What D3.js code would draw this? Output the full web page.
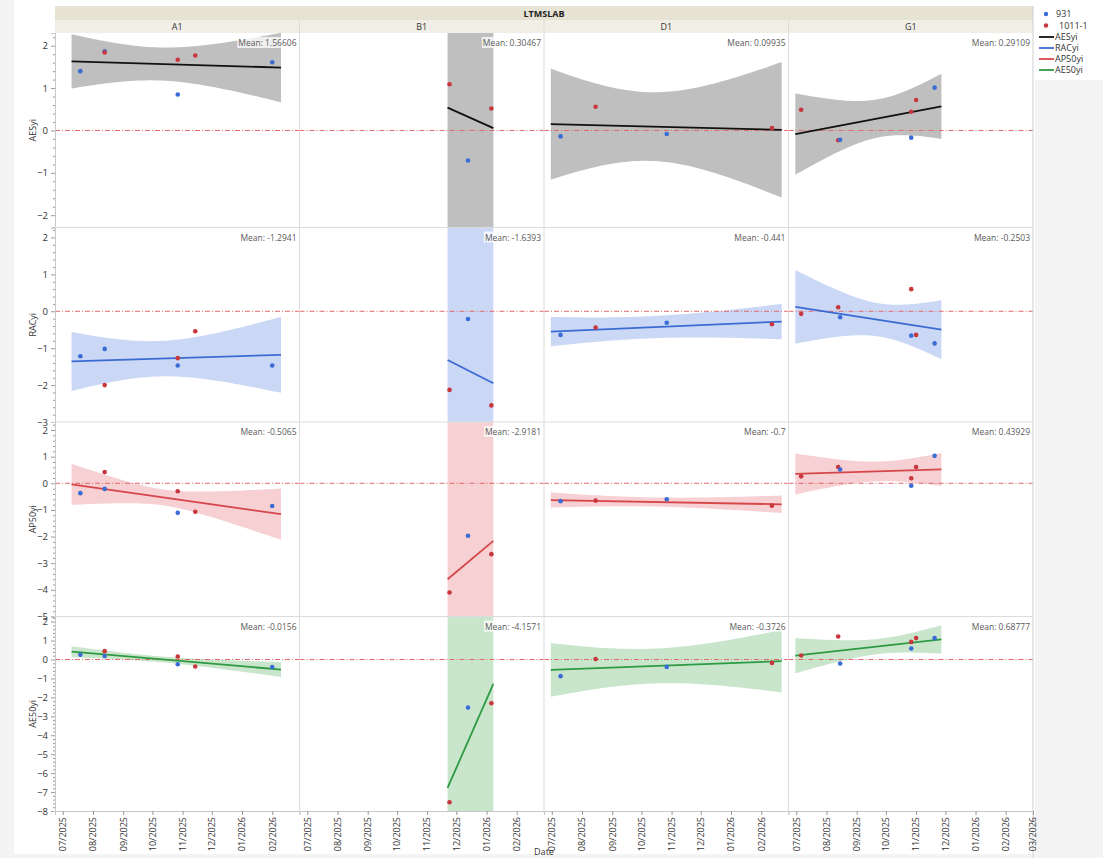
<!DOCTYPE html>
<html><head><meta charset="utf-8">
<script src="https://cdn.jsdelivr.net/npm/d3@7"></script>
<style>
html,body{margin:0;padding:0;background:#fff;}
svg{display:block;font-family:"Open Sans","Noto Sans",sans-serif;}
</style></head>
<body>
<svg id="chart" width="1103" height="858"></svg>
<script>
// ---------------- DATA ----------------
const groupTitle = "LTMSLAB";
const columns = ["A1", "B1", "D1", "G1"];
const rowVars = ["AESyi", "RACyi", "AP50yi", "AE50yi"];
const seriesNames = ["931", "1011-1"];
const xTitle = "Date";
const xTickDates = ["2025-07-01","2025-08-01","2025-09-01","2025-10-01","2025-11-01","2025-12-01","2026-01-01","2026-02-01","2026-03-01"];
const xTickLabels = ["07/2025","08/2025","09/2025","10/2025","11/2025","12/2025","01/2026","02/2026","03/2026"];
const xDomain = ["2025-06-23", "2026-03-01"];

const yDomains = { AESyi: [-2.29, 2.3], RACyi: [-3, 2.27], AP50yi: [-5, 2.3], AE50yi: [-8, 2.27] };
const yTicks = {
  AESyi: [-2, -1, 0, 1, 2],
  RACyi: [-3, -2, -1, 0, 1, 2],
  AP50yi: [-5, -4, -3, -2, -1, 0, 1, 2],
  AE50yi: [-8, -7, -6, -5, -4, -3, -2, -1, 0, 1, 2]
};

const pointDates = {
  A1: ["2025-07-19","2025-08-13","2025-08-13","2025-10-27","2025-10-27","2025-11-14","2026-02-01"],
  B1: ["2025-11-24","2025-12-13","2026-01-06"],
  D1: ["2025-07-10","2025-08-15","2025-10-27","2026-02-12"],
  G1: ["2025-07-06","2025-08-13","2025-08-15","2025-10-27","2025-10-27","2025-11-01","2025-11-20"]
};
const pointSeries = {
  A1: ["931","931","1011-1","1011-1","931","1011-1","931"],
  B1: ["1011-1","931","1011-1"],
  D1: ["931","1011-1","931","1011-1"],
  G1: ["1011-1","1011-1","931","931","1011-1","1011-1","931"]
};
const AESyi = {
  A1: [1.40, 1.87, 1.84, 1.67, 0.85, 1.77, 1.61],
  B1: [1.09, -0.71, 0.52],
  D1: [-0.14, 0.56, -0.085, 0.056],
  G1: [0.49, -0.23, -0.22, -0.17, 0.44, 0.72, 1.01]
};
const RACyi = {
  A1: [-1.22, -1.02, -2.0, -1.27, -1.47, -0.54, -1.47],
  B1: [-2.13, -0.21, -2.55],
  D1: [-0.64, -0.44, -0.31, -0.35],
  G1: [-0.07, 0.11, -0.16, -0.66, 0.6, -0.64, -0.87]
};
const AP50yi = {
  A1: [-0.37, -0.21, 0.42, -0.30, -1.11, -1.07, -0.85],
  B1: [-4.1, -1.97, -2.66],
  D1: [-0.67, -0.65, -0.6, -0.84],
  G1: [0.26, 0.61, 0.52, -0.09, 0.19, 0.61, 1.03]
};
const AE50yi = {
  A1: [0.25, 0.18, 0.44, 0.16, -0.25, -0.37, -0.4],
  B1: [-7.54, -2.54, -2.31],
  D1: [-0.88, 0.02, -0.39, -0.18],
  G1: [0.21, 1.21, -0.21, 0.58, 0.93, 1.13, 1.13]
};
const values = { AESyi, RACyi, AP50yi, AE50yi };

// fitted line range and end values
const fitStart = { A1: "2025-07-10", B1: "2025-11-22", D1: "2025-06-30", G1: "2025-06-30" };
const fitEnd   = { A1: "2026-02-10", B1: "2026-01-08", D1: "2026-02-22", G1: "2025-11-27" };
const fitLine = {
  AESyi:  { A1: [1.63, 1.485], B1: [0.54, 0.056], D1: [0.15, 0.016], G1: [-0.085, 0.57] },
  RACyi:  { A1: [-1.36, -1.18], B1: [-1.32, -1.95], D1: [-0.55, -0.28], G1: [0.12, -0.5] },
  AP50yi: { A1: [-0.04, -1.16], B1: [-3.6, -2.16], D1: [-0.63, -0.79], G1: [0.35, 0.52] },
  AE50yi: { A1: [0.41, -0.53], B1: [-6.78, -1.29], D1: [-0.55, -0.09], G1: [0.2, 1.06] }
};
// confidence band half-width: [at start, narrowest, at end]
const fitBand = {
  AESyi:  { A1: [0.64, 0.39, 0.82], B1: [99, 99, 99], D1: [1.31, 0.81, 1.6], G1: [0.96, 0.45, 0.77] },
  RACyi:  { A1: [0.8, 0.48, 1.03], B1: [99, 99, 99], D1: [0.4, 0.3, 0.48], G1: [1.0, 0.45, 0.8] },
  AP50yi: { A1: [0.77, 0.3, 0.96], B1: [99, 99, 99], D1: [0.28, 0.17, 0.33], G1: [0.77, 0.37, 0.62] },
  AE50yi: { A1: [0.29, 0.15, 0.39], B1: [99, 99, 99], D1: [1.42, 0.92, 1.65], G1: [0.93, 0.4, 0.75] }
};
const meanLabels = {
  AESyi:  ["1.56606", "0.30467", "0.09935", "0.29109"],
  RACyi:  ["-1.2941", "-1.6393", "-0.441", "-0.2503"],
  AP50yi: ["-0.5065", "-2.9181", "-0.7", "0.43929"],
  AE50yi: ["-0.0156", "-4.1571", "-0.3726", "0.68777"]
};

// ---------------- STYLE ----------------
const pointColor = { "931": "#3a6cd6", "1011-1": "#c8363e" };
const lineColor = { AESyi: "#111111", RACyi: "#3b6bd2", AP50yi: "#d6474a", AE50yi: "#2e9a42" };
const bandColor = { AESyi: "#bfbfbf", RACyi: "#cad8f6", AP50yi: "#f6d0d2", AE50yi: "#c9e6cd" };

// ---------------- LAYOUT ----------------
const svg = d3.select("#chart");
const W = 1103, H = 858;
const L = 55, R = 1033, T = 33, B = 811;
const pw = (R - L) / columns.length, ph = (B - T) / rowVars.length;
const parse = d3.utcParse("%Y-%m-%d");

// background
svg.append("rect").attr("width", W).attr("height", H).attr("fill", "#f4f4f4");
svg.append("rect").attr("x", 14).attr("y", 0).attr("width", R - 14 + 2).attr("height", 854).attr("fill", "#fff");
svg.append("rect").attr("x", R + 2).attr("y", 0).attr("width", W - R - 2).attr("height", 80).attr("fill", "#fff");

const x = d3.scaleUtc().domain(xDomain.map(parse)).range([0, pw]);
const yScales = {};
rowVars.forEach((v, r) => {
  yScales[v] = d3.scaleLinear().domain(yDomains[v]).range([T + (r + 1) * ph, T + r * ph]);
});

// header bands
svg.append("rect").attr("x", L).attr("y", 6).attr("width", R - L).attr("height", 14).attr("fill", "#e6e2d4");
svg.append("text").attr("x", (L + R) / 2).attr("y", 16.5).attr("text-anchor", "middle")
  .attr("font-size", 9).attr("font-weight", "bold").attr("fill", "#222").text(groupTitle);
columns.forEach((c, i) => {
  svg.append("rect").attr("x", L + i * pw).attr("y", 20).attr("width", pw).attr("height", 13).attr("fill", "#f1eee6");
  svg.append("text").attr("x", L + i * pw + pw / 2).attr("y", 30).attr("text-anchor", "middle")
    .attr("font-size", 9).attr("fill", "#333").text(c);
});

const defs = svg.append("defs");

function halfWidth(h0, hm, h1, t) {
  const a = Math.max(h0 * h0 - hm * hm, 0), b = Math.max(h1 * h1 - hm * hm, 0);
  if (a + b === 0) return hm;
  const ra = Math.sqrt(a), rb = Math.sqrt(b);
  const tc = ra / (ra + rb);
  const k = tc > 0 ? a / (tc * tc) : b / ((1 - tc) * (1 - tc));
  return Math.sqrt(hm * hm + k * (t - tc) * (t - tc));
}

rowVars.forEach((v, r) => {
  const y = yScales[v];
  columns.forEach((c, ci) => {
    const ox = L + ci * pw;
    const clipId = `clip-${r}-${ci}`;
    defs.append("clipPath").attr("id", clipId).append("rect")
      .attr("x", 0).attr("y", T + r * ph).attr("width", pw).attr("height", ph);
    const g = svg.append("g").attr("transform", `translate(${ox},0)`);
    const gc = g.append("g").attr("clip-path", `url(#${clipId})`);

    // band
    const s = parse(fitStart[c]).getTime(), e = parse(fitEnd[c]).getTime();
    const [y0, y1] = fitLine[v][c];
    const [h0, hm, h1] = fitBand[v][c];
    const samples = d3.range(0, 61).map(i => {
      const t = i / 60;
      const ctr = y0 + t * (y1 - y0);
      const h = halfWidth(h0, hm, h1, t);
      return { d: new Date(s + t * (e - s)), lo: ctr - h, hi: ctr + h };
    });
    gc.append("path").datum(samples)
      .attr("d", d3.area().x(d => x(d.d)).y0(d => y(d.lo)).y1(d => y(d.hi)))
      .attr("fill", bandColor[v]);

    // zero reference line
    gc.append("line").attr("x1", 0).attr("x2", pw).attr("y1", y(0)).attr("y2", y(0))
      .attr("stroke", "#e06a6a").attr("stroke-width", 1).attr("stroke-dasharray", "5,2,1,2");

    // fit line
    gc.append("line")
      .attr("x1", x(parse(fitStart[c]))).attr("x2", x(parse(fitEnd[c])))
      .attr("y1", y(y0)).attr("y2", y(y1))
      .attr("stroke", lineColor[v]).attr("stroke-width", 1.8);

    // points
    const pts = pointDates[c].map((d, i) => ({ d: parse(d), s: pointSeries[c][i], v: values[v][c][i] }));
    gc.selectAll("circle.pt").data(pts).join("circle")
      .attr("cx", d => x(d.d)).attr("cy", d => y(d.v)).attr("r", 2.3)
      .attr("fill", d => pointColor[d.s]);

    // mean label
    const mt = g.append("text").attr("x", pw - 3).attr("y", T + r * ph + 13)
      .attr("text-anchor", "end").attr("font-size", 8.5).attr("fill", "#5a5a5a")
      .text("Mean: " + meanLabels[v][ci]);
    const bb = mt.node().getBBox();
    g.insert("rect", () => mt.node()).attr("x", bb.x - 1).attr("y", bb.y).attr("width", bb.width + 2)
      .attr("height", bb.height).attr("fill", "#fff").attr("opacity", 0.75);
  });

  // left axis
  const ticks = yTicks[v];
  const minor = [];
  for (let k = ticks[0]; k < ticks[ticks.length - 1]; k++) for (let m = 1; m < 5; m++) minor.push(k + m * 0.2);
  if (yDomains[v][1] > ticks[ticks.length - 1] + 0.2) minor.push(ticks[ticks.length - 1] + 0.2);
  const ax = svg.append("g").attr("transform", `translate(${L},0)`);
  ax.call(d3.axisLeft(y).tickValues(ticks).tickSize(4).tickFormat(d3.format("d")));
  ax.append("g").call(d3.axisLeft(y).tickValues(minor).tickSize(2).tickFormat(""));
  ax.selectAll("path.domain").attr("stroke", "#c8c8c8");
  ax.selectAll(".tick line").attr("stroke", "#999");
  ax.selectAll(".tick text").attr("font-size", 9.5).attr("fill", "#333").attr("font-family", "Open Sans, sans-serif");

  // row title
  const cy = T + r * ph + ph / 2;
  svg.append("text").attr("transform", `translate(36,${cy}) rotate(-90)`).attr("text-anchor", "middle")
    .attr("font-size", 9).attr("fill", "#333").text(v);

  // row separator
  if (r > 0) svg.append("line").attr("x1", L).attr("x2", R).attr("y1", T + r * ph).attr("y2", T + r * ph)
    .attr("stroke", "#dcdcdc").attr("stroke-width", 1);
});

// column dividers
columns.forEach((c, i) => {
  if (i > 0) svg.append("line").attr("x1", L + i * pw).attr("x2", L + i * pw).attr("y1", 20).attr("y2", B)
    .attr("stroke", "#dcdcdc").attr("stroke-width", 1);
});
svg.append("line").attr("x1", R).attr("x2", R).attr("y1", 6).attr("y2", 858)
  .attr("stroke", "#d0d0d0").attr("stroke-width", 1);

// x axes
columns.forEach((c, i) => {
  const n = i === columns.length - 1 ? xTickDates.length : xTickDates.length - 1;
  const tv = xTickDates.slice(0, n).map(parse);
  const gx = svg.append("g").attr("transform", `translate(${L + i * pw},${B})`);
  gx.call(d3.axisBottom(x).tickValues(tv).tickSize(4).tickFormat((d, k) => xTickLabels[k]));
  gx.selectAll("path.domain").attr("stroke", "#c8c8c8");
  gx.selectAll(".tick line").attr("stroke", "#999");
  gx.selectAll(".tick text").attr("font-size", 9).attr("fill", "#333").attr("font-family", "Open Sans, sans-serif")
    .attr("transform", "rotate(-90)").attr("text-anchor", "end").attr("x", -6).attr("y", 0).attr("dy", "0.32em");
});
svg.append("text").attr("x", (L + R) / 2).attr("y", 855).attr("text-anchor", "middle")
  .attr("font-size", 9).attr("fill", "#333").text(xTitle);

// legend
const lg = svg.append("g").attr("transform", `translate(${R + 6},0)`);
seriesNames.forEach((s, i) => {
  lg.append("circle").attr("cx", 7).attr("cy", 14 + i * 11.5).attr("r", 2.2).attr("fill", pointColor[s]);
  lg.append("text").attr("x", i === 0 ? 17 : 20).attr("y", 17 + i * 11.5).attr("font-size", 9).attr("fill", "#333").text(s);
});
rowVars.forEach((v, i) => {
  const yy = 37 + i * 11;
  lg.append("line").attr("x1", 0).attr("x2", 15).attr("y1", yy).attr("y2", yy)
    .attr("stroke", lineColor[v]).attr("stroke-width", 1.8);
  lg.append("text").attr("x", 16).attr("y", yy + 3).attr("font-size", 9).attr("fill", "#333").text(v);
});
</script>
</body></html>
